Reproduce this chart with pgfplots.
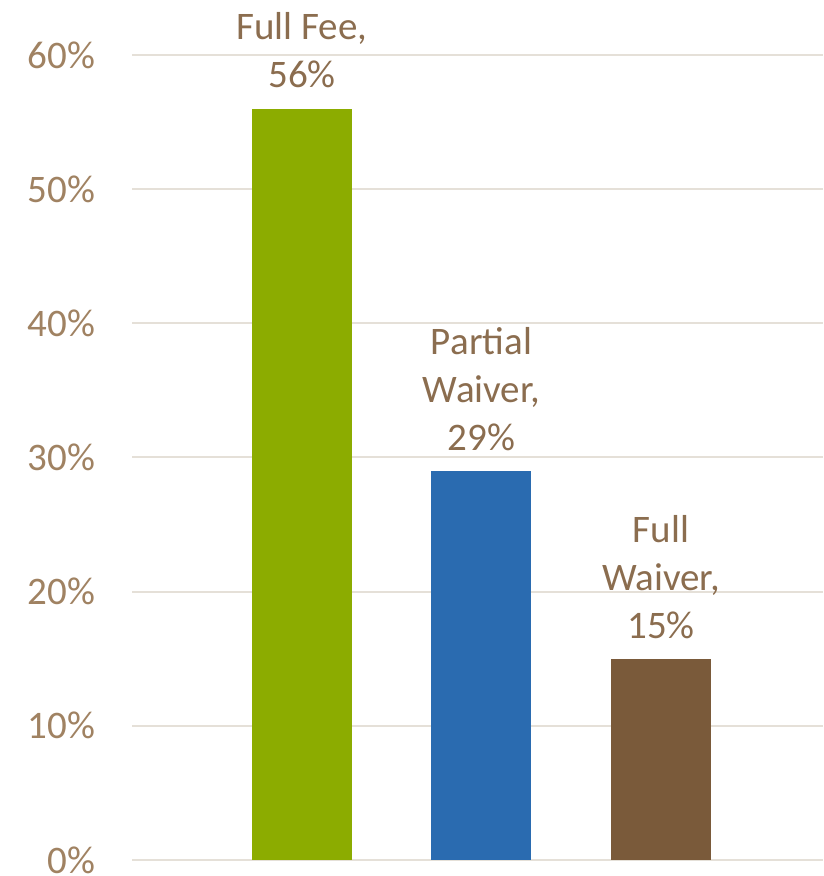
\documentclass[border=0pt]{standalone}
\usepackage{pgfplots}
\pgfplotsset{compat=1.18}
\usepackage{fontspec}
\setmainfont{Carlito}
\definecolor{gridc}{HTML}{E5E0D8}
\definecolor{tickc}{HTML}{A08262}
\definecolor{labc}{HTML}{8B6D4F}
\definecolor{cgreen}{HTML}{8CAC00}
\definecolor{cblue}{HTML}{2A6BB0}
\definecolor{cbrown}{HTML}{7A5A3A}
\begin{document}
\begin{tikzpicture}
\path[use as bounding box] (-66pt,-8pt) rectangle (345.5pt,430pt);
\begin{axis}[
  scale only axis, width=345.5pt, height=402.5pt,
  xmin=-0.947, xmax=2.903, ymin=0, ymax=60,
  axis line style={draw=none},
  ytick={0,10,20,30,40,50,60}, xtick=\empty,
  ymajorgrids, grid style={color=gridc, line width=1pt},
  major tick length=0pt,
  /pgf/number format/assume math mode=true,
  yticklabel={\pgfmathprintnumber{\tick}\%},
  yticklabel style={font=\fontsize{19.5}{24}\selectfont, text=tickc, xshift=-15pt},
  ybar, bar width=50pt,
  every node near coord/.append style={align=center, font=\fontsize{19.5}{24}\selectfont, text=labc, anchor=south, inner sep=0pt, yshift=10pt},
  clip=false,
]
\addplot[fill=cgreen, draw=none, bar shift=0pt, nodes near coords={Full Fee,\\56\%}] coordinates {(0,56)};
\addplot[fill=cblue, draw=none, bar shift=0pt, nodes near coords={Partial\\Waiver,\\29\%}] coordinates {(1,29)};
\addplot[fill=cbrown, draw=none, bar shift=0pt, nodes near coords={Full\\Waiver,\\15\%}] coordinates {(2,15)};
\end{axis}
\end{tikzpicture}
\end{document}
